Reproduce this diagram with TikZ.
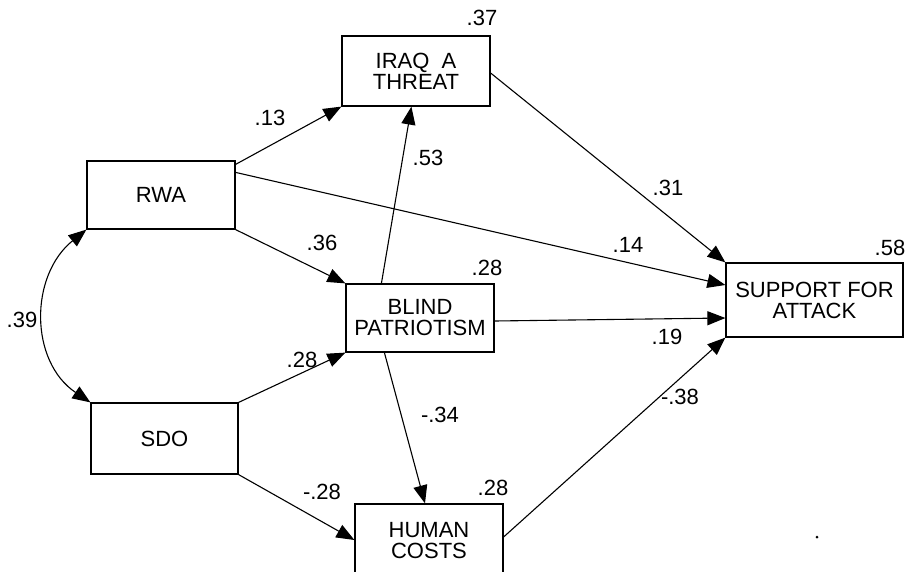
\documentclass[tikz,border=0pt]{standalone}
\usepackage{fontspec}
\setmainfont{Liberation Sans}
\usetikzlibrary{arrows.meta,calc}
\tikzset{
  var/.style={draw, line width=1.2pt, rectangle, align=center, inner sep=0pt,
    font=\fontsize{22}{21}\selectfont},
  coef/.style={font=\fontsize{22}{21}\selectfont, inner sep=0pt},
  path/.style={line width=1.1pt, -{Triangle[length=18pt,width=14pt]}},
}
\begin{document}
\begin{tikzpicture}[x=1pt,y=-1pt]
\useasboundingbox (0,0) rectangle (914,571);
\node[var, minimum width=148pt, minimum height=70pt] (iraq) at (416,71) {IRAQ\ \ A\\THREAT};
\node[var, minimum width=148pt, minimum height=68pt] (rwa) at (161,195) {RWA};
\node[var, minimum width=148pt, minimum height=68pt] (blind) at (420,318) {BLIND\\PATRIOTISM};
\node[var, minimum width=177pt, minimum height=74pt] (support) at (814.5,300) {SUPPORT FOR\\ATTACK};
\node[var, minimum width=147pt, minimum height=71pt] (sdo) at (164.5,438.5) {SDO};
\node[var, minimum width=148pt, minimum height=72pt, text depth=0pt] (human) at (429,540) {HUMAN\\COSTS};

\draw[path] ($(rwa.north east)+(0,4)$) -- (iraq.south west);
\draw[path] ($(rwa.north east)+(0,12)$) -- ($(support.west)+(0,-15)$);
\draw[path] (rwa.south east) -- (blind.north west);
\draw[path] (sdo.north east) -- (blind.south west);
\draw[path] (sdo.south east) -- (human.west);
\draw[path] ($(blind.north west)+(36,0)$) -- ($(iraq.south west)+(70,0)$);
\draw[path] ($(iraq.east)+(0,2)$) -- (support.north west);
\draw[path] ($(blind.east)+(0,3)$) -- ($(support.west)+(0,18)$);
\draw[path] ($(blind.south west)+(39,0)$) -- ($(human.north)+(-4,0)$);
\draw[path] ($(human.east)+(0,-3)$) -- (support.south west);
\draw[line width=1.1pt, {Triangle[length=18pt,width=14pt]}-{Triangle[length=18pt,width=14pt]}]
  (rwa.south west) .. controls ($(rwa.south west)+(-57,46)$) and ($(sdo.north west)+(-61,-41)$) .. (sdo.north west);

\node[coef] (c13) at (270,118) {.13};
\node[coef] (c36) at (322,243) {.36};
\node[coef] (c28a) at (302,360) {.28};
\node[coef] (c28b) at (322,492) {-.28};
\node[coef] (c53) at (428,158) {.53};
\node[coef] (c31) at (668,188) {.31};
\node[coef] (c14) at (628,245) {.14};
\node[coef] (c19) at (667,337) {.19};
\node[coef] (c34) at (440,415) {-.34};
\node[coef] (c38) at (680,397) {-.38};
\node[coef] (c39) at (22,320) {.39};
\node[coef] (r37) at (482,18) {.37};
\node[coef] (r28a) at (487,268) {.28};
\node[coef] (r58) at (890,248) {.58};
\node[coef] (r28b) at (493,488) {.28};
\fill (817,537) circle (1.5pt);
\end{tikzpicture}
\end{document}
